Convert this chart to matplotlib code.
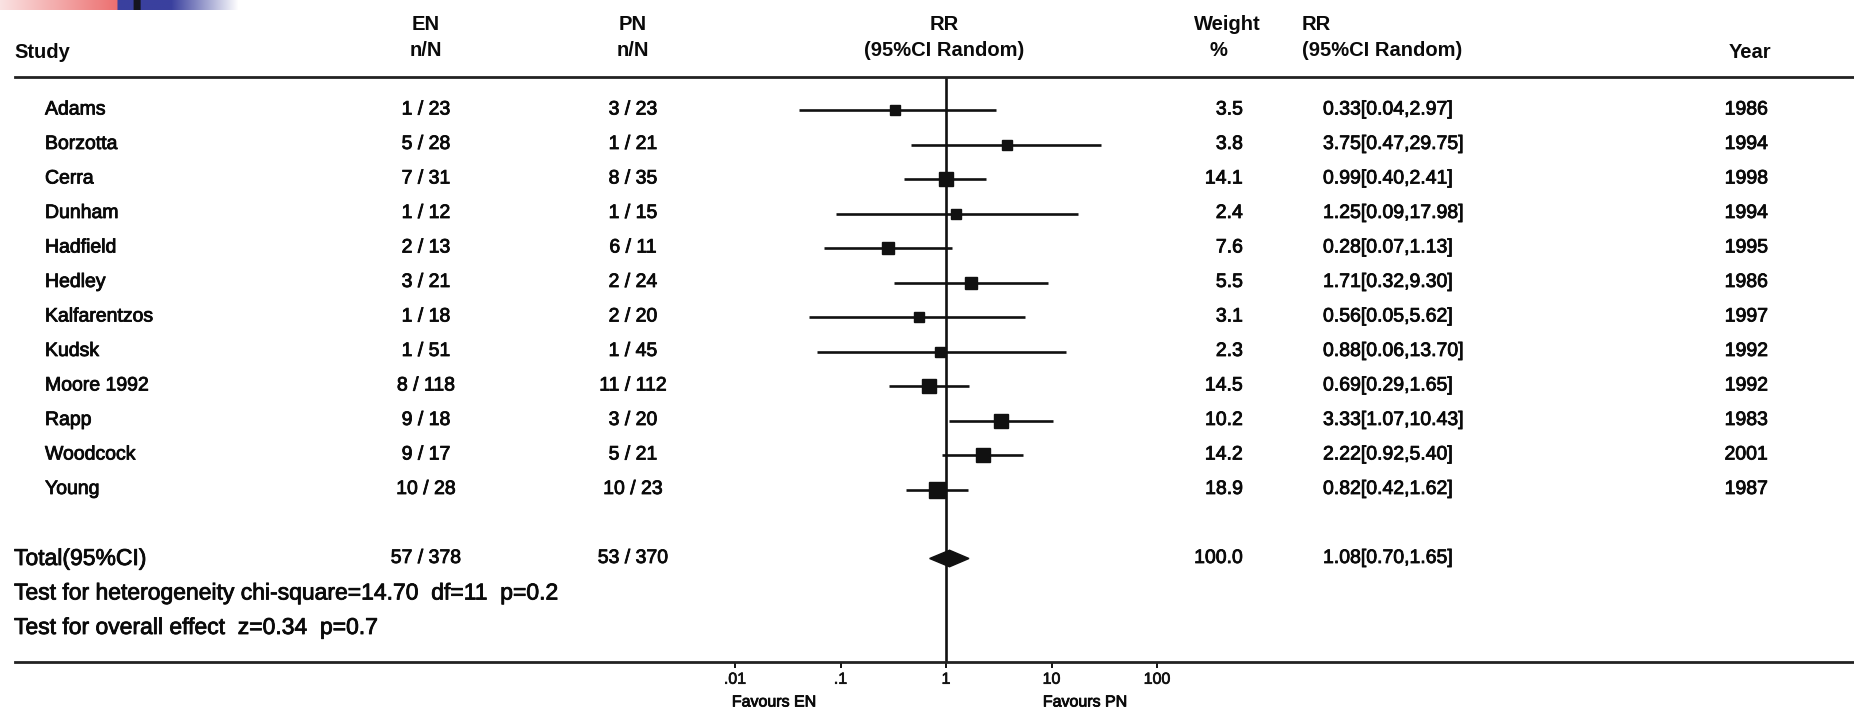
import numpy as np
import matplotlib
matplotlib.use("Agg")
import matplotlib.pyplot as plt
from matplotlib import transforms
from matplotlib.lines import Line2D
from matplotlib.ticker import NullLocator
import matplotlib.patheffects as pe

plt.rcParams['font.family'] = ['Liberation Sans', 'DejaVu Sans']

# ---------------- data ----------------
studies = ["Adams", "Borzotta", "Cerra", "Dunham", "Hadfield", "Hedley",
           "Kalfarentzos", "Kudsk", "Moore 1992", "Rapp", "Woodcock", "Young"]
en_n = [1, 5, 7, 1, 2, 3, 1, 1, 8, 9, 9, 10]
en_N = [23, 28, 31, 12, 13, 21, 18, 51, 118, 18, 17, 28]
pn_n = [3, 1, 8, 1, 6, 2, 2, 1, 11, 3, 5, 10]
pn_N = [23, 21, 35, 15, 11, 24, 20, 45, 112, 20, 21, 23]
weights = [3.5, 3.8, 14.1, 2.4, 7.6, 5.5, 3.1, 2.3, 14.5, 10.2, 14.2, 18.9]
rr = [0.33, 3.75, 0.99, 1.25, 0.28, 1.71, 0.56, 0.88, 0.69, 3.33, 2.22, 0.82]
rr_lo = [0.04, 0.47, 0.40, 0.09, 0.07, 0.32, 0.05, 0.06, 0.29, 1.07, 0.92, 0.42]
rr_hi = [2.97, 29.75, 2.41, 17.98, 1.13, 9.30, 5.62, 13.70, 1.65, 10.43, 5.40, 1.62]
years = [1986, 1994, 1998, 1994, 1995, 1986, 1997, 1992, 1992, 1983, 2001, 1987]

total_label = "Total(95%CI)"
total_en = (57, 378)
total_pn = (53, 370)
total_weight = 100.0
total_rr, total_lo, total_hi = 1.08, 0.70, 1.65
heterogeneity_text = "Test for heterogeneity chi-square=14.70  df=11  p=0.2"
overall_text = "Test for overall effect  z=0.34  p=0.7"

tick_values = [0.01, 0.1, 1, 10, 100]
tick_labels = [".01", ".1", "1", "10", "100"]
favours_left = "Favours EN"
favours_right = "Favours PN"

# ---------------- layout ----------------
W, H = 1854, 720
fig = plt.figure(figsize=(W / 100, H / 100), dpi=100)
fig.patch.set_facecolor("white")

def fx(px):
    return px / W

def fy(py):
    return 1 - py / H

# decorative top-left banner
bax = fig.add_axes([0, fy(10), fx(237), 10 / H])
bax.axis("off")
n = 237
grad = np.ones((1, n, 3))
for j in range(n):
    if j < 117:
        t = j / 116
        grad[0, j] = np.array([250, 226, 226]) / 255 * (1 - t) + np.array([236, 112, 112]) / 255 * t
    elif j < 133 or (140 <= j < 170):
        grad[0, j] = np.array([58, 64, 158]) / 255
    elif j < 140:
        grad[0, j] = np.array([20, 20, 30]) / 255
    else:
        t = (j - 170) / (n - 170)
        grad[0, j] = np.array([58, 64, 158]) / 255 * (1 - t) + np.array([1, 1, 1]) * t
bax.imshow(grad, aspect="auto", extent=(0, 1, 0, 1))
bax.set_xlim(0, 1)
bax.set_ylim(0, 1)

# forest axes (log scale)
x01, x100 = 735, 1157
ytop, ybot = 77, 662
row0, dy = 110, 34.5
ax = fig.add_axes([fx(x01), fy(ybot), fx(x100 - x01), (ybot - ytop) / H])
ax.set_facecolor("none")
ax.set_xscale("log")
ax.set_xlim(0.01, 100)
ax.set_ylim((ybot - row0) / dy, (ytop - row0) / dy)
for s in ax.spines.values():
    s.set_visible(False)
ax.set_yticks([])
ax.set_xticks(tick_values)
ax.set_xticklabels(tick_labels)
ax.xaxis.set_minor_locator(NullLocator())
ax.tick_params(axis="x", direction="out", length=4, width=1.4, pad=3,
               labelsize=11.5, colors="#111111")
for lab in ax.get_xticklabels():
    lab.set_path_effects([pe.withStroke(linewidth=0.5, foreground="#111111")])

nrows = len(studies)
ypos = np.arange(nrows)
total_y = 13
het_y = 14
ovr_y = 15

ax.axvline(1, color="#111111", lw=1.9, zorder=1)
ax.hlines(ypos, rr_lo, rr_hi, color="#111111", lw=1.9, zorder=2)
msz = [(7 + 2.0 * np.sqrt(w)) * 0.72 for w in weights]
for i in range(nrows):
    ax.plot(rr[i], ypos[i], marker="s", ms=msz[i], color="#111111",
            mec="#111111", zorder=3)
dh = 0.24
ax.fill([total_lo, total_rr, total_hi, total_rr],
        [total_y, total_y - dh, total_y, total_y + dh],
        color="#111111", zorder=3)

# header / footer lines
fig.add_artist(Line2D([fx(15), 1], [fy(77), fy(77)], transform=fig.transFigure,
                      color="#222222", lw=2.0))
fig.add_artist(Line2D([fx(15), 1], [fy(662), fy(662)], transform=fig.transFigure,
                      color="#222222", lw=2.0))

# text columns
tr = transforms.blended_transform_factory(fig.transFigure, ax.transData)
fs = 14
fs2 = 16.5
col = "#0a0a0a"
heavy = [pe.withStroke(linewidth=0.6, foreground=col)]
body = dict(color=col, path_effects=heavy)

hdr = dict(fontsize=14.5, fontweight="bold", color=col, transform=fig.transFigure)
fig.text(fx(14), fy(53), "Study", ha="left", va="center", **hdr)
fig.text(fx(426), fy(25), "EN", ha="center", va="center", **hdr)
fig.text(fx(426), fy(50), "n/N", ha="center", va="center", **hdr)
fig.text(fx(633), fy(25), "PN", ha="center", va="center", **hdr)
fig.text(fx(633), fy(50), "n/N", ha="center", va="center", **hdr)
fig.text(fx(944), fy(25), "RR", ha="center", va="center", **hdr)
fig.text(fx(944), fy(50), "(95%CI Random)", ha="center", va="center", **hdr)
fig.text(fx(1227), fy(25), "Weight", ha="center", va="center", **hdr)
fig.text(fx(1218), fy(50), "%", ha="center", va="center", **hdr)
fig.text(fx(1302), fy(25), "RR", ha="left", va="center", **hdr)
fig.text(fx(1302), fy(50), "(95%CI Random)", ha="left", va="center", **hdr)
fig.text(fx(1750), fy(53), "Year", ha="center", va="center", **hdr)

for i in range(nrows):
    y = ypos[i]
    ax.text(fx(45), y, studies[i], transform=tr, ha="left", va="center", fontsize=fs, **body)
    ax.text(fx(426), y, f"{en_n[i]} / {en_N[i]}", transform=tr, ha="center", va="center", fontsize=fs, **body)
    ax.text(fx(633), y, f"{pn_n[i]} / {pn_N[i]}", transform=tr, ha="center", va="center", fontsize=fs, **body)
    ax.text(fx(1243), y, f"{weights[i]:.1f}", transform=tr, ha="right", va="center", fontsize=fs, **body)
    ax.text(fx(1323), y, f"{rr[i]:.2f}[{rr_lo[i]:.2f},{rr_hi[i]:.2f}]", transform=tr,
            ha="left", va="center", fontsize=fs, **body)
    ax.text(fx(1768), y, f"{years[i]}", transform=tr, ha="right", va="center", fontsize=fs, **body)

ax.text(fx(14), total_y, total_label, transform=tr, ha="left", va="center", fontsize=fs2, **body)
ax.text(fx(426), total_y, f"{total_en[0]} / {total_en[1]}", transform=tr, ha="center", va="center", fontsize=fs, **body)
ax.text(fx(633), total_y, f"{total_pn[0]} / {total_pn[1]}", transform=tr, ha="center", va="center", fontsize=fs, **body)
ax.text(fx(1243), total_y, f"{total_weight:.1f}", transform=tr, ha="right", va="center", fontsize=fs, **body)
ax.text(fx(1323), total_y, f"{total_rr:.2f}[{total_lo:.2f},{total_hi:.2f}]", transform=tr,
        ha="left", va="center", fontsize=fs, **body)
ax.text(fx(14), het_y, heterogeneity_text, transform=tr, ha="left", va="center", fontsize=fs2, **body)
ax.text(fx(14), ovr_y, overall_text, transform=tr, ha="left", va="center", fontsize=fs2, **body)

fig.text(fx(774), fy(702), favours_left, ha="center", va="center", fontsize=11.5, **body)
fig.text(fx(1085), fy(702), favours_right, ha="center", va="center", fontsize=11.5, **body)

fig.savefig("out.png", dpi=100, facecolor="white")
